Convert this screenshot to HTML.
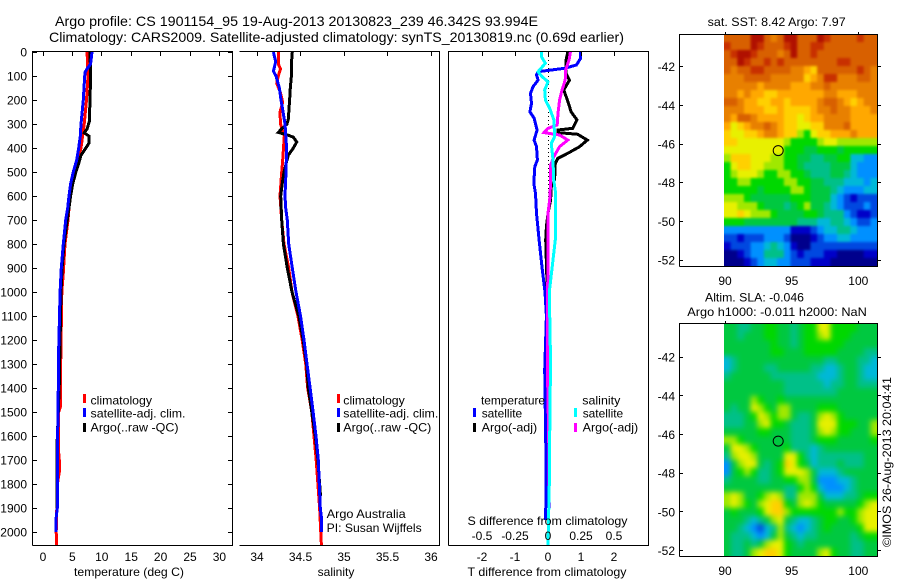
<!DOCTYPE html>
<html lang="en">
<head>
<meta charset="utf-8">
<title>Argo profile 1901154_95</title>
<style>
html,body{margin:0;padding:0;background:#fff;}
#chart{display:block;width:900px;height:580px;}
text{font-family:"Liberation Sans",sans-serif;font-size:12px;fill:#000;}
.line{stroke:#000;stroke-width:1;shape-rendering:crispEdges;fill:none;}
.series{fill:none;stroke-width:3;shape-rendering:crispEdges;stroke-linejoin:miter;}
</style>
</head>
<body>
<svg id="chart" xmlns="http://www.w3.org/2000/svg" width="900" height="580" viewBox="0 0 900 580">
  <rect x="0" y="0" width="900" height="580" fill="#fff"/>
  <defs>
    <clipPath id="clip-sst"><rect x="724" y="34" width="153" height="232"/></clipPath>
    <clipPath id="clip-sla"><rect x="724" y="324" width="153" height="232"/></clipPath>
    <filter id="smooth-sst" x="-20%" y="-20%" width="140%" height="140%" color-interpolation-filters="sRGB"><feGaussianBlur stdDeviation="1.3"/></filter>
    <filter id="smooth-sla" x="-20%" y="-20%" width="140%" height="140%" color-interpolation-filters="sRGB"><feGaussianBlur stdDeviation="2.6"/></filter>
  </defs>

  <text x="55" y="26" font-size="14" style="font-size:14px" textLength="483" lengthAdjust="spacingAndGlyphs">Argo profile: CS 1901154_95 19-Aug-2013 20130823_239 46.342S 93.994E</text>
  <text x="49" y="42" font-size="14" style="font-size:14px" textLength="575" lengthAdjust="spacingAndGlyphs">Climatology: CARS2009. Satellite-adjusted climatology: synTS_20130819.nc (0.69d earlier)</text>

  <g id="maps">
    <g clip-path="url(#clip-sst)"><g id="sst-cells" filter="url(#smooth-sst)"></g></g>
    <g clip-path="url(#clip-sla)"><g id="sla-cells" filter="url(#smooth-sla)"></g></g>
  </g>

  <g id="panels">
    <g id="temp-series"></g>
    <g id="sal-series"></g>
    <line id="zero-line" x1="548.5" x2="548.5" y1="52" y2="470" stroke="#000" stroke-width="1" stroke-dasharray="1 3" shape-rendering="crispEdges"/>
    <g id="diff-series"></g>
  </g>

  <g id="frames">
    <path class="line" d="M32.5 545.5V51.5H232.5V545.5H32.5"/>
    <path class="line" d="M239.5 51.5H439.5V545.5H239.5"/>
    <path class="line" d="M448.5 545.5V51.5H648.5V545.5H448.5"/>
    <path class="line" d="M679.5 266.5V34.5H877.5V266.5H679.5"/>
    <path class="line" d="M679.5 556.5V323.5H877.5V556.5H679.5"/>
  </g>
  <g id="ticks"></g>

  <text x="129" y="576" text-anchor="middle" textLength="110" lengthAdjust="spacingAndGlyphs">temperature (deg C)</text>
  <text x="336" y="576" text-anchor="middle">salinity</text>
  <text x="467.5" y="576" textLength="159" lengthAdjust="spacingAndGlyphs">T difference from climatology</text>
  <text x="467.5" y="525" textLength="160" lengthAdjust="spacingAndGlyphs">S difference from climatology</text>

  <g>
    <rect x="83" y="394" width="3" height="9" fill="#f00"/>
    <text x="90.5" y="404.5" textLength="61.5" lengthAdjust="spacingAndGlyphs">climatology</text>
    <rect x="83" y="408" width="3" height="9" fill="#00f"/>
    <text x="90.5" y="417.5" textLength="95" lengthAdjust="spacingAndGlyphs">satellite-adj. clim.</text>
    <rect x="83" y="423" width="3" height="9" fill="#000"/>
    <text x="90.5" y="431.5" textLength="88" lengthAdjust="spacingAndGlyphs">Argo(..raw -QC)</text>
  </g>
  <g>
    <rect x="337" y="394" width="3" height="9" fill="#f00"/>
    <text x="343.3" y="404.5" textLength="61.5" lengthAdjust="spacingAndGlyphs">climatology</text>
    <rect x="337" y="408" width="3" height="9" fill="#00f"/>
    <text x="343.3" y="417.5" textLength="95" lengthAdjust="spacingAndGlyphs">satellite-adj. clim.</text>
    <rect x="337" y="423" width="3" height="9" fill="#000"/>
    <text x="343.3" y="431.5" textLength="88" lengthAdjust="spacingAndGlyphs">Argo(..raw -QC)</text>
    <text x="326.7" y="518" textLength="79" lengthAdjust="spacingAndGlyphs">Argo Australia</text>
    <text x="326.7" y="532" textLength="95" lengthAdjust="spacingAndGlyphs">PI: Susan Wijffels</text>
  </g>
  <g>
    <text x="481" y="404.5" textLength="64" lengthAdjust="spacingAndGlyphs">temperature</text>
    <text x="582.3" y="404.5" textLength="38" lengthAdjust="spacingAndGlyphs">salinity</text>
    <rect x="473" y="408" width="3" height="9" fill="#00f"/>
    <text x="481.7" y="417.5" textLength="40.5" lengthAdjust="spacingAndGlyphs">satellite</text>
    <rect x="473" y="423" width="3" height="9" fill="#000"/>
    <text x="481.7" y="431.5" textLength="55.5" lengthAdjust="spacingAndGlyphs">Argo(-adj)</text>
    <rect x="574" y="408" width="3" height="9" fill="#0ff"/>
    <text x="582.7" y="417.5" textLength="40.5" lengthAdjust="spacingAndGlyphs">satellite</text>
    <rect x="574" y="423" width="3" height="9" fill="#f0f"/>
    <text x="582.7" y="431.5" textLength="55.5" lengthAdjust="spacingAndGlyphs">Argo(-adj)</text>
  </g>

  <text x="707.7" y="26" textLength="138" lengthAdjust="spacingAndGlyphs">sat. SST: 8.42 Argo: 7.97</text>
  <text x="705" y="301.5" textLength="99" lengthAdjust="spacingAndGlyphs">Altim. SLA: -0.046</text>
  <text x="687.3" y="316" textLength="179.5" lengthAdjust="spacingAndGlyphs">Argo h1000: -0.011 h2000: NaN</text>
  <text transform="translate(891,547) rotate(-90)" textLength="170" lengthAdjust="spacingAndGlyphs">©IMOS 26-Aug-2013 20:04:41</text>
</svg>

<script>
// Depth axis
const depthTicks = [0,100,200,300,400,500,600,700,800,900,1000,1100,1200,1300,1400,1500,1600,1700,1800,1900,2000];
const tempTicks = [0,5,10,15,20,25,30];
const salTicks = [34,34.5,35,35.5,36];
const salTickLabels = ['34','34.5','35','35.5','36'];
const tDiffTicks = [-2,-1,0,1,2];
const sDiffTicks = [-0.5,-0.25,0,0.25,0.5];
const sDiffTickLabels = ['-0.5','-0.25','0','0.25','0.5'];
const lonTicks = [90,95,100];
const latTicks = [-42,-44,-46,-48,-50,-52];

// Float position
const floatLon = 93.994;
const floatLat = -46.342;

// Temperature profiles (deg C)
const climTempDepth = [0,100,200,300,400,500,600,700,800,920,1000,1400,1480,1500,1650,1700,1750,1800,2000,2055];
const climTemp = [7.5,7.65,7.4,7.0,6.46,5.44,4.6,4.25,3.74,3.46,3.2,2.95,2.95,2.65,2.6,2.77,2.77,2.45,2.25,2.33];
const argoTempDepth = [0,100,200,290,320,337,350,380,400,430,470,500,550,600,700,800,900,1000,1400,1630,1900];
const argoTemp = [8.0,8.1,8.0,7.88,7.5,7.0,7.8,7.8,7.3,6.46,6.0,5.6,5.05,4.7,4.14,3.57,3.24,3.06,2.75,2.4,2.4];
const satTempDepth = [0,50,70,85,100,200,300,350,400,450,500,550,600,650,700,800,900,1000,1300,1400,1700,1900,1950,2000];
const satTemp = [8.33,8.1,7.5,7.14,7.1,6.85,6.46,6.35,6.07,5.73,5.16,4.7,4.42,4.2,3.86,3.46,3.11,2.9,2.6,2.6,2.44,2.44,2.2,2.2];

// Salinity profiles
const climSalDepth = [0,50,70,100,130,170,210,250,300,350,450,500,600,700,800,900,1000,1100,1200,1300,1400,1500,1600,1700,1800,1900,2055];
const climSal = [34.245,34.245,34.27,34.245,34.226,34.27,34.295,34.264,34.27,34.314,34.295,34.284,34.264,34.284,34.31,34.364,34.402,34.47,34.52,34.56,34.583,34.63,34.655,34.68,34.7,34.72,34.74];
const argoSalDepth = [0,50,100,150,200,280,300,320,335,345,355,375,400,430,450,500,550,600,700,800,900,1000,1100,1200,1300,1400,1600,1700,1850];
const argoSal = [34.406,34.395,34.395,34.383,34.375,34.36,34.345,34.284,34.245,34.345,34.418,34.456,34.418,34.36,34.345,34.31,34.29,34.272,34.284,34.303,34.348,34.402,34.48,34.53,34.57,34.59,34.67,34.7,34.73];
const satSalDepth = [0,40,80,100,150,200,250,300,400,500,600,650,700,800,900,1000,1100,1200,1300,1400,1500,1600,1700,1800,1900,1950,2000];
const satSal = [34.188,34.215,34.188,34.218,34.257,34.276,34.3,34.322,34.34,34.333,34.322,34.33,34.348,34.364,34.406,34.448,34.5,34.54,34.575,34.61,34.645,34.678,34.705,34.716,34.728,34.744,34.744];

// Temperature differences (deg C)
const satDiffTDepth = [0,26,54,68,82,96,117,144,172,214,249,276,325,367,394,450,478,547,589,672,783,900,1000,1100,1325,1700,1950];
const satDiffT = [0.99,0.99,0.86,0.5,-0.3,-0.35,-0.3,-0.45,-0.53,-0.5,-0.55,-0.42,-0.33,-0.42,-0.35,-0.32,-0.4,-0.43,-0.38,-0.35,-0.27,-0.18,-0.09,-0.05,-0.1,-0.06,-0.07];
const argoDiffTDepth = [0,33,89,117,158,214,249,283,318,325,336,343,367,394,422,443,464,533,561,617,672,728,783,1000,1300,1500,1900];
const argoDiffT = [0.6,0.55,0.55,0.65,0.48,0.62,0.7,0.88,0.75,0.3,0.3,0.9,1.19,0.96,0.6,0.3,0.22,0.2,0.1,0.08,0,-0.05,-0.07,-0.02,-0.05,0.02,0.02];

// Salinity differences
const argoDiffSDepth = [0,33,75,117,158,200,255,304,318,336,346,367,394,436,471,533,603,672,783,1300,1600,1900];
const argoDiffS = [0.17,0.16,0.134,0.13,0.106,0.088,0.076,0.07,0,-0.03,0.088,0.15,0.088,0.045,0.02,0.02,0.015,0,0,-0.005,0.005,0.01];
const satDiffSDepth = [0,19,47,82,103,124,158,200,235,283,353,381,450,533,589,783,1000,1300,1462,1800,2055];
const satDiffS = [-0.05,-0.05,-0.02,-0.076,-0.045,0,-0.025,-0.02,0.013,0.045,0.05,0.025,0.038,0.043,0.058,0.055,0.01,0.02,0.015,0.01,0];

// Map colour levels, low to high
const levelColors = ['#00008c','#0000c8','#0048e0','#0090ff','#00b8d8','#00c088','#00c840','#00d800','#a0e800','#e8f000','#ffd000','#ffa800','#e88000','#d86000','#c83000','#b01000'];

// Sea surface temperature map, colour levels per row north to south
const sstLevels = [
[13,13,13,13,15,15,13,12,13,15,15,13,13,13,15,14,13,13,13,13,14,13,13],
[14,13,13,13,15,14,13,13,13,14,15,13,13,14,14,13,13,13,13,13,13,13,13],
[13,14,15,15,14,13,13,13,12,13,15,13,13,14,13,13,13,13,13,13,13,13,13],
[13,13,15,14,13,13,14,13,14,13,13,13,13,13,13,13,13,14,14,13,13,13,13],
[13,12,13,13,14,14,13,13,13,13,12,12,11,10,13,13,13,13,13,13,14,13,12],
[12,12,12,13,13,13,13,12,12,12,12,12,10,11,12,14,14,12,12,12,13,13,12],
[12,12,12,12,12,11,12,12,12,12,11,11,11,12,12,13,12,12,12,12,12,12,12],
[12,12,11,12,11,11,10,10,11,11,11,11,11,11,11,12,12,11,11,11,12,12,12],
[13,13,12,11,11,10,10,11,11,10,11,11,11,11,12,13,13,12,11,10,11,12,12],
[12,12,12,11,11,11,10,10,11,10,10,10,10,11,12,12,13,12,12,11,11,11,12],
[12,11,13,13,12,11,11,11,11,10,10,9,10,11,11,12,12,12,12,11,11,11,11],
[11,9,10,11,12,12,13,12,11,10,10,9,9,10,10,12,12,12,13,11,11,11,11],
[10,9,9,10,10,11,12,12,11,10,10,8,7,9,10,10,11,11,11,12,11,11,11],
[10,10,9,9,9,9,9,9,9,8,7,7,7,7,8,9,9,8,8,8,8,8,8],
[9,9,9,9,9,9,9,9,9,7,7,7,6,6,7,7,7,6,7,7,7,7,7],
[8,10,10,10,9,9,9,8,8,7,7,6,6,5,5,6,6,7,7,4,4,3,3],
[7,9,10,10,9,9,8,8,8,7,7,6,5,5,5,5,6,6,6,4,3,3,3],
[7,8,9,9,9,8,7,7,8,8,7,7,6,5,5,5,6,6,5,4,3,3,3],
[7,7,8,8,7,7,7,7,7,8,8,7,7,6,6,5,5,5,4,4,4,3,4],
[7,7,7,7,7,6,7,7,7,7,8,8,7,6,6,6,5,4,3,3,3,4,4],
[8,8,8,7,6,6,6,6,6,6,7,7,7,6,6,6,4,3,2,1,2,2,2],
[9,9,8,8,8,7,6,6,6,5,6,7,8,6,6,5,4,3,2,2,2,3,2],
[9,9,10,9,8,8,8,7,6,6,6,6,7,7,6,5,5,5,3,2,1,1,2],
[7,7,7,6,6,6,6,6,6,6,6,5,5,5,4,4,5,5,4,3,2,2,3],
[3,3,3,3,3,3,3,3,3,3,1,1,1,2,3,4,4,5,5,4,3,3,3],
[2,2,1,2,2,2,3,3,3,2,0,0,0,1,2,3,3,4,4,3,3,3,3],
[1,2,2,2,3,3,4,5,4,3,1,0,0,2,2,2,2,2,2,2,2,2,2],
[0,0,1,2,3,3,5,5,5,3,2,1,2,2,2,1,1,0,0,0,0,1,1],
[0,0,0,1,2,3,4,4,3,3,2,2,2,1,1,1,0,0,0,0,0,0,0]
];

// Sea level anomaly map, colour levels per row north to south
const slaLevels = [
[6,6,5,5,6,6,7,7,6,6,5,6,7,7,9,9,7,7,7,7,6,6,6],
[6,6,5,6,6,6,7,7,6,6,5,6,7,7,8,9,7,7,7,6,6,6,6],
[6,6,6,6,6,6,6,7,6,6,5,6,7,7,7,7,7,7,6,6,6,6,6],
[6,6,6,6,6,6,6,7,7,6,6,6,7,7,7,7,7,6,6,6,6,5,5],
[4,5,6,6,6,6,6,6,6,6,6,6,6,6,6,5,5,6,6,6,5,5,4],
[4,5,6,6,6,6,5,5,6,6,6,6,6,5,5,4,4,5,6,6,5,4,4],
[5,6,6,6,6,6,6,5,5,5,5,5,5,5,4,4,4,5,6,6,5,4,4],
[6,6,6,6,6,6,6,6,6,5,5,5,5,5,5,4,5,5,6,6,5,5,5],
[6,6,6,6,6,6,6,6,6,5,5,5,5,5,5,5,5,6,6,6,6,6,6],
[6,6,6,6,8,7,6,6,7,6,6,6,6,6,6,6,6,6,6,6,6,6,6],
[6,5,6,6,9,8,7,6,8,8,6,6,6,6,7,7,7,6,6,6,6,6,6],
[5,5,5,6,7,9,8,7,8,8,6,5,5,6,8,9,8,7,6,6,6,6,6],
[5,5,5,6,6,8,9,7,7,6,5,5,5,6,9,9,9,7,7,7,6,6,8],
[6,6,6,6,6,7,7,6,6,6,5,5,5,6,8,9,8,7,7,6,6,6,8],
[8,8,7,6,6,6,6,6,6,6,5,5,5,6,7,7,7,6,6,6,6,6,7],
[6,9,9,8,7,6,6,6,6,7,5,5,5,4,5,6,6,6,6,6,6,6,6],
[5,8,9,9,8,6,6,6,6,9,9,7,5,4,5,5,5,5,5,5,5,6,6],
[3,6,8,9,9,6,5,6,7,10,9,7,6,4,5,5,5,6,5,5,5,6,6],
[3,6,7,8,7,5,5,6,7,9,9,9,8,6,4,4,4,5,6,6,6,6,6],
[5,6,6,6,6,5,5,6,6,7,7,8,8,6,3,3,3,4,4,5,6,6,6],
[6,6,6,6,6,6,6,6,6,5,5,7,8,7,4,3,3,3,4,5,6,6,6],
[8,9,8,6,6,7,8,9,8,5,5,8,8,8,6,4,4,4,5,5,6,7,7],
[8,9,8,7,6,8,9,10,10,7,6,8,9,8,7,6,6,6,6,6,7,8,9],
[6,7,6,6,6,7,9,10,10,8,7,7,7,7,7,7,7,8,7,7,8,9,9],
[6,6,6,5,4,5,6,8,9,6,5,4,4,5,6,7,7,6,6,7,8,9,9],
[6,6,5,4,3,2,4,5,8,5,4,3,4,5,6,7,6,6,6,6,7,9,9],
[6,5,5,5,4,3,4,6,8,6,5,4,5,5,6,6,6,6,6,5,6,7,7],
[6,5,5,6,5,6,8,9,9,7,6,5,6,6,6,6,6,6,6,5,5,6,6],
[6,5,5,6,8,9,10,10,9,7,6,6,6,6,8,9,7,6,6,5,5,6,6]
];

const SVGNS = 'http://www.w3.org/2000/svg';

// Axis functions
function depthY(d) { return 52 + 0.24 * d; }
function tempX(t) { return 43 + 5.88 * t; }
function salX(s) { return 257 + 87 * (s - 34); }
function tDiffX(t) { return 548 + 33 * t; }
function sDiffX(s) { return 548 + 132 * s; }
function lonX(lon) { return 725 + 13.33 * (lon - 90); }
function sstLatY(lat) { return 66.7 + 19.33 * (-42 - lat); }
function slaLatY(lat) { return 357.2 + 19.33 * (-42 - lat); }

function addSeries(parent, name, color, depths, values, xFn) {
  const pts = values.map(function (v, i) { return xFn(v).toFixed(1) + ',' + depthY(depths[i]).toFixed(1); });
  const el = document.createElementNS(SVGNS, 'polyline');
  
  
  el.setAttribute('class', 'series');
  el.setAttribute('stroke', color);
  el.setAttribute('points', pts.join(' '));
  parent.appendChild(el);
}

function addTick(x1, y1, x2, y2) {
  const el = document.createElementNS(SVGNS, 'line');
  
  
  el.setAttribute('class', 'line');
  el.setAttribute('x1', x1);
  el.setAttribute('y1', y1);
  el.setAttribute('x2', x2);
  el.setAttribute('y2', y2);
  document.getElementById('ticks').appendChild(el);
}

function addLabel(x, y, str, anchor) {
  const el = document.createElementNS(SVGNS, 'text');
  
  
  el.setAttribute('x', x);
  el.setAttribute('y', y);
  el.setAttribute('text-anchor', anchor);
  el.textContent = str;
  document.getElementById('ticks').appendChild(el);
}

const tempGroup = document.getElementById('temp-series');
addSeries(tempGroup, 'climatology-temperature-line', '#f00', climTempDepth, climTemp, tempX);
addSeries(tempGroup, 'argo-temperature-line', '#000', argoTempDepth, argoTemp, tempX);
addSeries(tempGroup, 'satellite-adjusted-temperature-line', '#00f', satTempDepth, satTemp, tempX);

const salGroup = document.getElementById('sal-series');
addSeries(salGroup, 'climatology-salinity-line', '#f00', climSalDepth, climSal, salX);
addSeries(salGroup, 'argo-salinity-line', '#000', argoSalDepth, argoSal, salX);
addSeries(salGroup, 'satellite-adjusted-salinity-line', '#00f', satSalDepth, satSal, salX);

const diffGroup = document.getElementById('diff-series');
addSeries(diffGroup, 'argo-temperature-difference-line', '#000', argoDiffTDepth, argoDiffT, tDiffX);
addSeries(diffGroup, 'satellite-temperature-difference-line', '#00f', satDiffTDepth, satDiffT, tDiffX);
addSeries(diffGroup, 'argo-salinity-difference-line', '#f0f', argoDiffSDepth, argoDiffS, sDiffX);
addSeries(diffGroup, 'satellite-salinity-difference-line', '#0ff', satDiffSDepth, satDiffS, sDiffX);

depthTicks.forEach(function (d) {
  const y = Math.floor(depthY(d)) + 0.5;
  addTick(33, y, 37, y);
  addTick(228, y, 232, y);
  addLabel(27, depthY(d) + 4.5, String(d), 'end');
});
tempTicks.forEach(function (t) {
  const x = Math.floor(tempX(t)) + 0.5;
  addTick(x, 52, x, 56);
  addLabel(tempX(t), 561, String(t), 'middle');
});
salTicks.forEach(function (s, i) {
  const x = Math.floor(salX(s)) + 0.5;
  addTick(x, 52, x, 56);
  addLabel(salX(s), 561, salTickLabels[i], 'middle');
});
tDiffTicks.forEach(function (t) {
  const x = Math.floor(tDiffX(t)) + 0.5;
  addTick(x, 52, x, 56);
  addLabel(tDiffX(t), 561, String(t), 'middle');
});
sDiffTicks.forEach(function (s, i) {
  addLabel(sDiffX(s), 540, sDiffTickLabels[i], 'middle');
});
lonTicks.forEach(function (lon) {
  const x = Math.floor(lonX(lon)) + 0.5;
  addTick(x, 32, x, 34);
  addTick(x, 321, x, 323);
  addLabel(lonX(lon), 285, String(lon), 'middle');
  addLabel(lonX(lon), 575, String(lon), 'middle');
});
latTicks.forEach(function (lat) {
  const y1 = Math.floor(sstLatY(lat)) + 0.5;
  const y2 = Math.floor(slaLatY(lat)) + 0.5;
  addTick(680, y1, 683, y1);
  addTick(877, y1, 881, y1);
  addTick(680, y2, 683, y2);
  addTick(877, y2, 881, y2);
  addLabel(675, sstLatY(lat) + 4.5, String(lat), 'end');
  addLabel(675, slaLatY(lat) + 4.5, String(lat), 'end');
});

function drawMap(groupId, levels, cellName, top, pad) {
  const group = document.getElementById(groupId);
  const cw = 153 / levels[0].length;
  const ch = 232 / levels.length;
  levels.forEach(function (row, r) {
    row.forEach(function (v, c) {
      const rect = document.createElementNS(SVGNS, 'rect');
      
      
      const left = c === 0 ? pad : 0;
      const right = c === row.length - 1 ? pad : 0;
      const above = r === 0 ? pad : 0;
      const below = r === levels.length - 1 ? pad : 0;
      rect.setAttribute('x', (724 + c * cw - left).toFixed(2));
      rect.setAttribute('y', (top + r * ch - above).toFixed(2));
      rect.setAttribute('width', (cw + left + right + 0.4).toFixed(2));
      rect.setAttribute('height', (ch + above + below + 0.4).toFixed(2));
      rect.setAttribute('fill', levelColors[v]);
      group.appendChild(rect);
    });
  });
}
drawMap('sst-cells', sstLevels, 'sst-cell', 34, 12);
drawMap('sla-cells', slaLevels, 'sla-cell', 324, 12);

function addFloatMarker(name, y) {
  const el = document.createElementNS(SVGNS, 'circle');
  
  
  el.setAttribute('cx', lonX(floatLon).toFixed(1));
  el.setAttribute('cy', y.toFixed(1));
  el.setAttribute('r', '5');
  el.setAttribute('fill', 'none');
  el.setAttribute('stroke', '#000');
  el.setAttribute('stroke-width', '1');
  document.getElementById('maps').appendChild(el);
}
addFloatMarker('sst-float-position-marker', sstLatY(floatLat));
addFloatMarker('sla-float-position-marker', slaLatY(floatLat));
</script>
</body>
</html>
